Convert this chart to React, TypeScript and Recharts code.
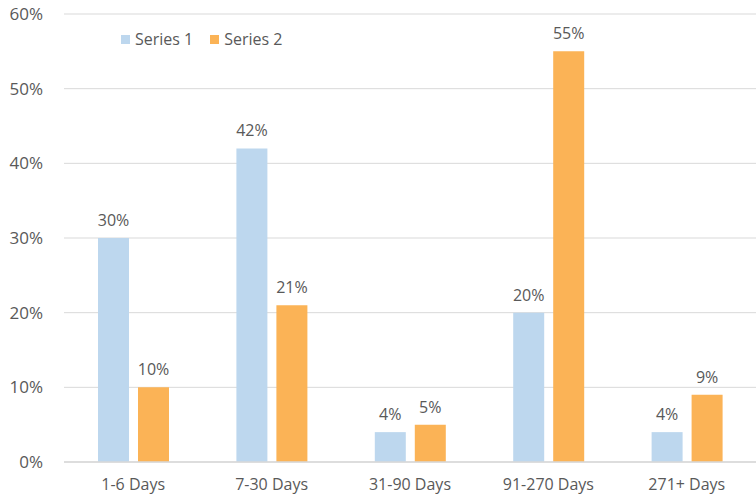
import { BarChart, Bar, XAxis, YAxis, CartesianGrid, LabelList } from 'recharts';

const categories = ['1-6 Days', '7-30 Days', '31-90 Days', '91-270 Days', '271+ Days'];
const series1 = [30, 42, 4, 20, 4];
const series2 = [10, 21, 5, 55, 9];
const yTicks = [0, 10, 20, 30, 40, 50, 60];

const data = categories.map((name, i) => ({ name, s1: series1[i], s2: series2[i] }));

const FONT = '"Open Sans", sans-serif';
const TEXT = '#595959';

function SimpleLegend() {
  const items = [
    { label: 'Series 1', color: '#BDD7EE' },
    { label: 'Series 2', color: '#FBB356' },
  ];
  return (
    <div
      style={{
        position: 'absolute',
        top: 28,
        left: 121,
        display: 'flex',
        gap: 17,
        fontFamily: FONT,
        fontSize: 16,
        color: TEXT,
      }}
    >
      {items.map((it) => (
        <div key={it.label} style={{ display: 'flex', alignItems: 'center' }}>
          <span style={{ width: 9, height: 9, background: it.color, marginRight: 5, display: 'inline-block' }} />
          {it.label}
        </div>
      ))}
    </div>
  );
}

export default function App() {
  const pct = (v: number) => `${v}%`;
  return (
    <div style={{ position: 'absolute', left: 0, top: 0, width: 756, height: 495, background: '#fff' }}>
      <BarChart
        width={756}
        height={495}
        data={data}
        margin={{ top: 14, right: 0, left: 0, bottom: 0 }}
        barCategoryGap="24%"
        barGap={9}
      >
        <CartesianGrid vertical={false} stroke="#D9D9D9" />
        <XAxis
          dataKey="name"
          height={33}
          tickLine={false}
          axisLine={{ stroke: '#D9D9D9', strokeWidth: 1.5 }}
          tick={{ fill: TEXT, fontSize: 16, fontFamily: FONT }}
          tickMargin={11}
          interval={0}
        />
        <YAxis
          width={64}
          domain={[0, 60]}
          ticks={yTicks}
          tickFormatter={pct}
          tickLine={false}
          axisLine={false}
          tick={{ fill: TEXT, fontSize: 17, fontFamily: FONT }}
          tickMargin={15}
        />
        <Bar dataKey="s1" name="Series 1" fill="#BDD7EE" barSize={31} isAnimationActive={false}>
          <LabelList dataKey="s1" position="top" offset={12} formatter={pct} style={{ fill: TEXT, fontSize: 16, fontFamily: FONT }} />
        </Bar>
        <Bar dataKey="s2" name="Series 2" fill="#FBB356" barSize={31} isAnimationActive={false}>
          <LabelList dataKey="s2" position="top" offset={12} formatter={pct} style={{ fill: TEXT, fontSize: 16, fontFamily: FONT }} />
        </Bar>
      </BarChart>
      <SimpleLegend />
    </div>
  );
}
